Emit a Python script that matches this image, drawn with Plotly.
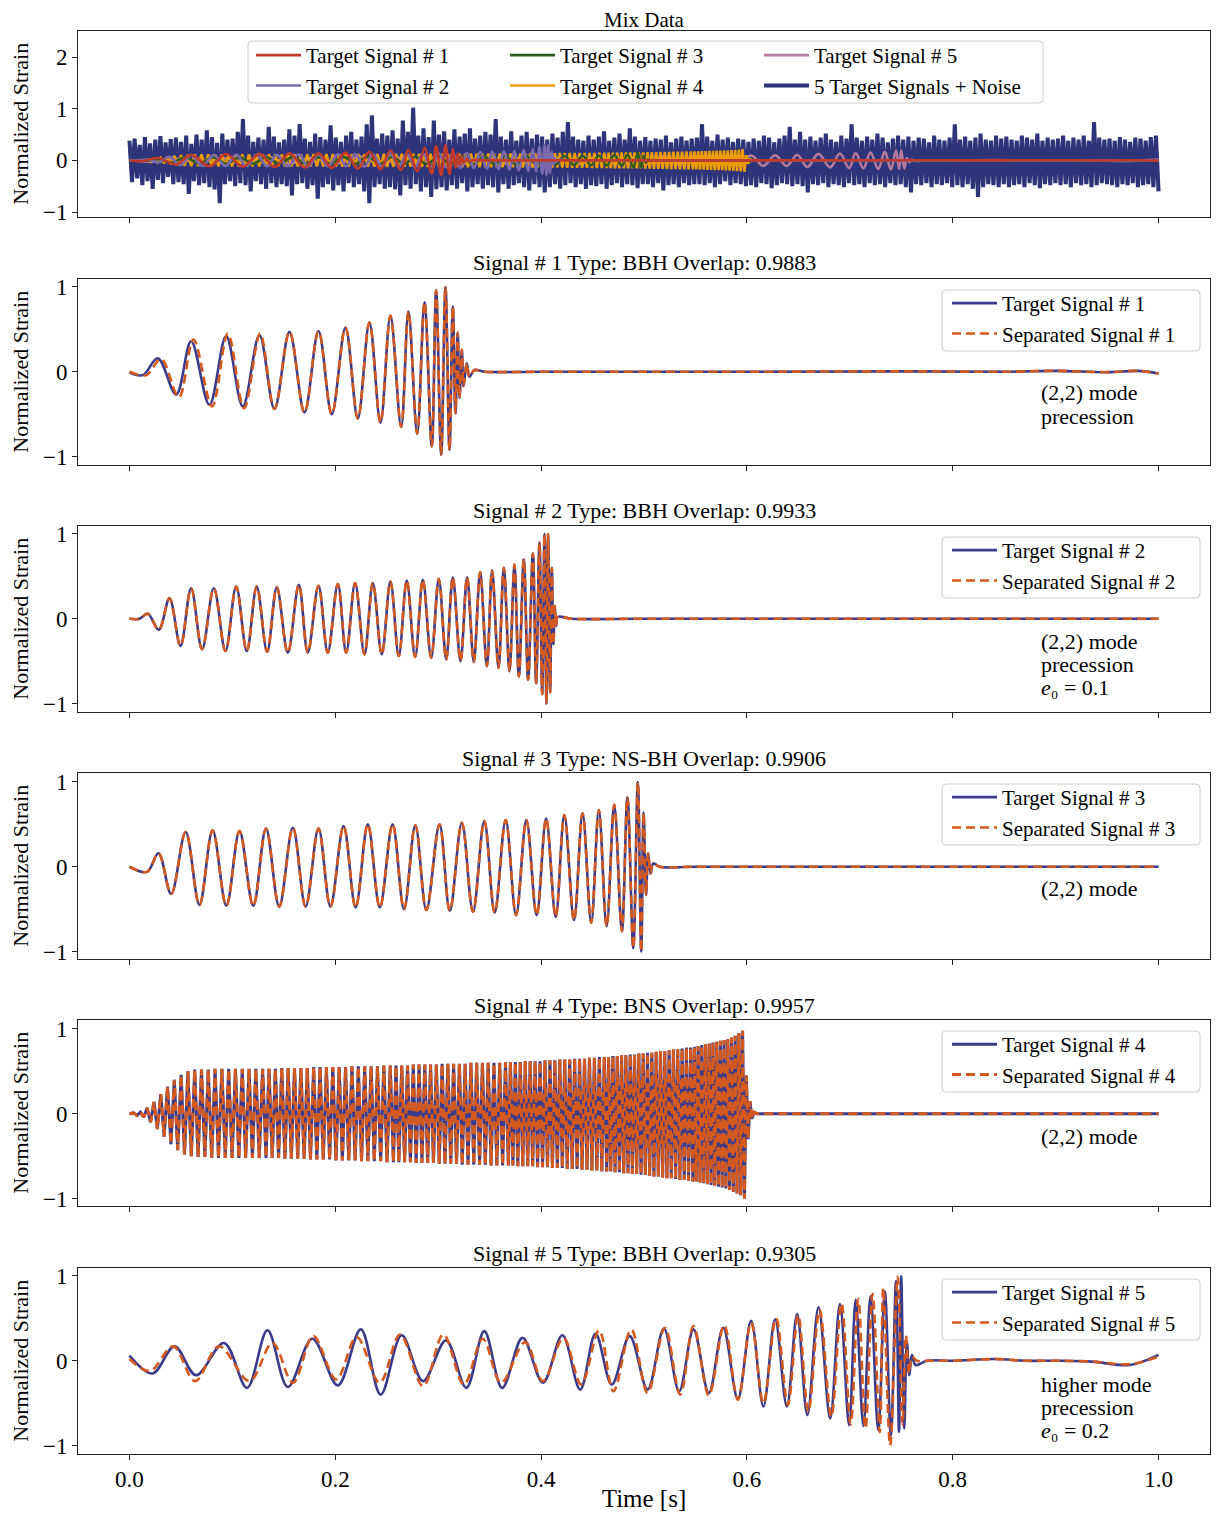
import plotly.graph_objects as go

# ---------------------------------------------------------------- data
time_ticks = [0.0, 0.2, 0.4, 0.6, 0.8, 1.0]

titles = ["Mix Data",
          "Signal # 1 Type: BBH Overlap: 0.9883",
          "Signal # 2 Type: BBH Overlap: 0.9933",
          "Signal # 3 Type: NS-BH Overlap: 0.9906",
          "Signal # 4 Type: BNS Overlap: 0.9957",
          "Signal # 5 Type: BBH Overlap: 0.9305"]

notes = [["(2,2) mode", "precession"],
         ["(2,2) mode", "precession", "<i>e</i>\u2080 = 0.1"],
         ["(2,2) mode"],
         ["(2,2) mode"],
         ["higher mode", "precession", "<i>e</i>\u2080 = 0.2"]]

# mixed data (noise + signals): alternating upper / lower excursions, evenly sampled in time
mix_upper = [0.38, 0.42, 0.30, 0.45, 0.33, 0.40, 0.47, 0.35, 0.41, 0.44,
             0.36, 0.48, 0.32, 0.50, 0.40, 0.58, 0.45, 0.34, 0.52, 0.40,
             0.42, 0.55, 0.80, 0.48, 0.36, 0.44, 0.40, 0.65, 0.46, 0.35,
             0.40, 0.60, 0.48, 0.70, 0.42, 0.36, 0.52, 0.45, 0.40, 0.68,
             0.44, 0.36, 0.48, 0.55, 0.40, 0.46, 0.70, 0.87, 0.42, 0.52,
             0.48, 0.58, 0.42, 0.77, 0.55, 1.02, 0.48, 0.62, 0.45, 0.77,
             0.50, 0.56, 0.40, 0.60, 0.46, 0.52, 0.62, 0.42, 0.48, 0.55,
             0.50, 0.80, 0.46, 0.40, 0.56, 0.38, 0.48, 0.55, 0.42, 0.50,
             0.46, 0.40, 0.52, 0.44, 0.55, 0.74, 0.46, 0.40, 0.38, 0.48,
             0.40, 0.46, 0.56, 0.38, 0.44, 0.52, 0.40, 0.62, 0.46, 0.38,
             0.45, 0.38, 0.42, 0.40, 0.48, 0.35, 0.42, 0.46, 0.38, 0.42,
             0.44, 0.70, 0.46, 0.38, 0.50, 0.40, 0.44, 0.36, 0.42, 0.40,
             0.36, 0.42, 0.38, 0.48, 0.44, 0.35, 0.42, 0.48, 0.65, 0.40,
             0.55, 0.40, 0.46, 0.38, 0.44, 0.52, 0.40, 0.36, 0.48, 0.42,
             0.70, 0.44, 0.38, 0.46, 0.40, 0.52, 0.44, 0.35, 0.42, 0.48,
             0.40, 0.46, 0.38, 0.44, 0.42, 0.35, 0.48, 0.40, 0.38, 0.44,
             0.70, 0.40, 0.46, 0.38, 0.44, 0.52, 0.40, 0.38, 0.48, 0.42,
             0.46, 0.40, 0.38, 0.48, 0.44, 0.40, 0.52, 0.38, 0.44, 0.40,
             0.42, 0.48, 0.38, 0.44, 0.40, 0.48, 0.38, 0.74, 0.44, 0.40,
             0.42, 0.38, 0.45, 0.40, 0.36, 0.44, 0.42, 0.38, 0.45, 0.48]
mix_lower = [-0.42, -0.35, -0.48, -0.40, -0.55, -0.38, -0.44, -0.32, -0.46, -0.42,
             -0.46, -0.65, -0.40, -0.48, -0.44, -0.52, -0.56, -0.83, -0.46, -0.40,
             -0.50, -0.44, -0.48, -0.60, -0.40, -0.46, -0.55, -0.44, -0.52, -0.46,
             -0.50, -0.68, -0.46, -0.44, -0.55, -0.48, -0.74, -0.52, -0.46, -0.58,
             -0.48, -0.60, -0.44, -0.52, -0.46, -0.60, -0.83, -0.52, -0.46, -0.55,
             -0.52, -0.56, -0.68, -0.48, -0.55, -0.46, -0.60, -0.52, -0.71, -0.56,
             -0.52, -0.58, -0.48, -0.55, -0.44, -0.60, -0.52, -0.46, -0.55, -0.48,
             -0.52, -0.62, -0.46, -0.55, -0.48, -0.44, -0.52, -0.58, -0.46, -0.52,
             -0.62, -0.52, -0.46, -0.55, -0.48, -0.44, -0.52, -0.46, -0.55, -0.48,
             -0.50, -0.46, -0.55, -0.48, -0.44, -0.52, -0.46, -0.48, -0.54, -0.46,
             -0.46, -0.52, -0.44, -0.58, -0.48, -0.46, -0.52, -0.44, -0.48, -0.46,
             -0.46, -0.48, -0.44, -0.52, -0.46, -0.40, -0.48, -0.44, -0.46, -0.50,
             -0.48, -0.52, -0.44, -0.46, -0.54, -0.48, -0.44, -0.46, -0.50, -0.46,
             -0.50, -0.62, -0.46, -0.48, -0.44, -0.52, -0.46, -0.48, -0.52, -0.44,
             -0.48, -0.46, -0.52, -0.44, -0.48, -0.46, -0.52, -0.44, -0.48, -0.46,
             -0.52, -0.62, -0.46, -0.48, -0.44, -0.52, -0.46, -0.48, -0.44, -0.52,
             -0.48, -0.52, -0.46, -0.55, -0.71, -0.52, -0.46, -0.48, -0.52, -0.46,
             -0.52, -0.48, -0.46, -0.52, -0.44, -0.48, -0.54, -0.46, -0.48, -0.44,
             -0.48, -0.46, -0.52, -0.44, -0.48, -0.46, -0.52, -0.48, -0.44, -0.46,
             -0.48, -0.52, -0.46, -0.48, -0.44, -0.52, -0.48, -0.46, -0.52, -0.60]

# relative size of each target signal inside the mixed data
mix_scale = [0.29, 0.29, 0.14, 0.22, 0.20]

# Signal 1 (BBH, precession): extrema times [s] and normalized strain
sig1_t = [0.0, 0.0130, 0.0275, 0.0454, 0.0599, 0.0777, 0.0940, 0.1101, 0.1263, 0.1409,
          0.1555, 0.1701, 0.1837, 0.1966, 0.2099, 0.2219, 0.2332, 0.2439, 0.2536, 0.2640,
          0.2711, 0.2796, 0.2867, 0.2938, 0.2980, 0.3029, 0.3071, 0.3110, 0.3142, 0.3168,
          0.3190, 0.3207, 0.3230, 0.3246, 0.3278, 0.3304, 0.3353, 0.345, 0.4, 0.6,
          0.75, 0.85, 0.9, 0.95, 0.98, 1.0]
sig1_v = [-0.01, -0.04, 0.16, -0.27, 0.36, -0.39, 0.42, -0.41, 0.43, -0.44,
          0.47, -0.48, 0.48, -0.50, 0.52, -0.55, 0.58, -0.60, 0.66, -0.65,
          0.71, -0.73, 0.82, -0.88, 0.96, -0.98, 1.0, -0.92, 0.77, -0.49,
          0.46, -0.31, 0.26, -0.17, 0.10, -0.06, 0.02, 0.0, 0.0, 0.0,
          0.005, 0.0, 0.01, -0.005, 0.01, -0.02]
sep1_t_head = [0.0, 0.0162, 0.0307, 0.0480, 0.0622, 0.0803, 0.0956, 0.1114, 0.1270]
sep1_v_head = [0.0, -0.04, 0.15, -0.30, 0.38, -0.41, 0.45, -0.43, 0.45]

# Signal 2 (BBH, precession, e0=0.1)
sig2_t = [0.0, 0.0097, 0.0178, 0.0285, 0.0389, 0.0496, 0.0599, 0.0706, 0.0820, 0.0933,
          0.1037, 0.1140, 0.1237, 0.1338, 0.1432, 0.1539, 0.1646, 0.1733, 0.1837, 0.1927,
          0.2025, 0.2106, 0.2193, 0.2284, 0.2365, 0.2452, 0.2536, 0.2617, 0.2695, 0.2776,
          0.2851, 0.2932, 0.3006, 0.3078, 0.3142, 0.3217, 0.3281, 0.3346, 0.3408, 0.3473,
          0.3524, 0.3586, 0.3638, 0.3693, 0.3741, 0.3784, 0.3832, 0.3874, 0.3920, 0.3952,
          0.3984, 0.4011, 0.4033, 0.4052, 0.4068, 0.4088, 0.4104, 0.4120, 0.4133, 0.4146,
          0.4162, 0.43, 0.5, 0.7, 0.9, 1.0]
sig2_v = [0.0, 0.0, 0.06, -0.13, 0.24, -0.32, 0.36, -0.36, 0.36, -0.38,
          0.38, -0.38, 0.38, -0.39, 0.37, -0.40, 0.40, -0.40, 0.39, -0.40,
          0.41, -0.40, 0.42, -0.42, 0.42, -0.42, 0.44, -0.44, 0.45, -0.45,
          0.46, -0.46, 0.47, -0.48, 0.49, -0.50, 0.49, -0.51, 0.55, -0.56,
          0.57, -0.58, 0.60, -0.62, 0.64, -0.68, 0.70, -0.72, 0.77, -0.76,
          0.90, -0.89, 1.0, -1.0, 1.0, -0.87, 0.6, -0.3, 0.15, -0.08,
          0.02, 0.0, 0.0, 0.0, 0.0, 0.0]

# Signal 3 (NS-BH)
sig3_t = [0.0, 0.0171, 0.0282, 0.0405, 0.0546, 0.0680, 0.0808, 0.0942, 0.1069, 0.1203,
          0.1327, 0.1455, 0.1588, 0.1712, 0.1837, 0.1953, 0.2081, 0.2198, 0.2316, 0.2433,
          0.2557, 0.2668, 0.2778, 0.2885, 0.3013, 0.3113, 0.3230, 0.3338, 0.3448, 0.3549,
          0.3656, 0.3757, 0.3857, 0.3957, 0.4049, 0.4142, 0.4226, 0.4320, 0.4403, 0.4487,
          0.4561, 0.4637, 0.4711, 0.4785, 0.4839, 0.4896, 0.4940, 0.4973, 0.4996, 0.5020,
          0.5040, 0.5064, 0.5090, 0.515, 0.55, 0.75, 0.9, 1.0]
sig3_v = [0.0, -0.06, 0.16, -0.32, 0.41, -0.45, 0.43, -0.46, 0.42, -0.46,
          0.45, -0.47, 0.46, -0.47, 0.45, -0.47, 0.48, -0.48, 0.50, -0.48,
          0.50, -0.50, 0.49, -0.51, 0.50, -0.52, 0.52, -0.53, 0.54, -0.54,
          0.55, -0.57, 0.55, -0.57, 0.57, -0.59, 0.61, -0.63, 0.63, -0.66,
          0.67, -0.70, 0.73, -0.76, 0.82, -0.96, 1.0, -1.0, 0.64, -0.33,
          0.16, -0.08, 0.04, 0.0, 0.0, 0.0, 0.0, 0.0]

# Signal 4 (BNS): times of maxima / minima and their values
sig4_tmax = [0.004, 0.0106, 0.0172, 0.0238, 0.0304, 0.037, 0.0436, 0.0502, 0.0568, 0.0634,
             0.07, 0.0766, 0.0832, 0.0898, 0.0964, 0.103, 0.1096, 0.1162, 0.1228, 0.1294,
             0.1356, 0.1418, 0.148, 0.1542, 0.1604, 0.1666, 0.1728, 0.179, 0.1852, 0.1914,
             0.1976, 0.2038, 0.21, 0.2162, 0.2224, 0.2286, 0.2348, 0.241, 0.2472, 0.2534,
             0.259, 0.2646, 0.2702, 0.2758, 0.2814, 0.287, 0.2926, 0.2982, 0.3038, 0.3094,
             0.315, 0.3206, 0.3262, 0.3318, 0.3374, 0.343, 0.3486, 0.3542, 0.3598, 0.3654,
             0.3702, 0.375, 0.3798, 0.3846, 0.3894, 0.3942, 0.399, 0.4038, 0.4086, 0.4134,
             0.4182, 0.423, 0.4278, 0.4326, 0.4374, 0.4422, 0.447, 0.4518, 0.4566, 0.4614,
             0.4656, 0.4698, 0.474, 0.4782, 0.4824, 0.4866, 0.4908, 0.495, 0.4992, 0.5034,
             0.5076, 0.5118, 0.516, 0.5202, 0.5244, 0.5286, 0.5328, 0.537, 0.5412, 0.5454,
             0.549, 0.5526, 0.5562, 0.5598, 0.5634, 0.567, 0.5706, 0.5742, 0.5778, 0.5814,
             0.585, 0.5886, 0.5922, 0.5958]
sig4_tmin = [0.0073, 0.0139, 0.0205, 0.0271, 0.0337, 0.0403, 0.0469, 0.0535, 0.0601, 0.0667,
             0.0733, 0.0799, 0.0865, 0.0931, 0.0997, 0.1063, 0.1129, 0.1195, 0.1261, 0.1327,
             0.1387, 0.1449, 0.1511, 0.1573, 0.1635, 0.1697, 0.1759, 0.1821, 0.1883, 0.1945,
             0.2007, 0.2069, 0.2131, 0.2193, 0.2255, 0.2317, 0.2379, 0.2441, 0.2503, 0.2565,
             0.2618, 0.2674, 0.273, 0.2786, 0.2842, 0.2898, 0.2954, 0.301, 0.3066, 0.3122,
             0.3178, 0.3234, 0.329, 0.3346, 0.3402, 0.3458, 0.3514, 0.357, 0.3626, 0.3682,
             0.3726, 0.3774, 0.3822, 0.387, 0.3918, 0.3966, 0.4014, 0.4062, 0.411, 0.4158,
             0.4206, 0.4254, 0.4302, 0.435, 0.4398, 0.4446, 0.4494, 0.4542, 0.459, 0.4638,
             0.4677, 0.4719, 0.4761, 0.4803, 0.4845, 0.4887, 0.4929, 0.4971, 0.5013, 0.5055,
             0.5097, 0.5139, 0.5181, 0.5223, 0.5265, 0.5307, 0.5349, 0.5391, 0.5433, 0.5475,
             0.5508, 0.5544, 0.558, 0.5616, 0.5652, 0.5688, 0.5724, 0.576, 0.5796, 0.5832,
             0.5868, 0.5904, 0.594, 0.5976]
sig4_vmax = [0.01, 0.02, 0.07, 0.14, 0.23, 0.32, 0.40, 0.46, 0.50, 0.52,
             0.52, 0.52, 0.53, 0.53, 0.53, 0.53, 0.53, 0.53, 0.53, 0.53,
             0.53, 0.53, 0.54, 0.54, 0.54, 0.54, 0.54, 0.55, 0.55, 0.55,
             0.55, 0.55, 0.55, 0.56, 0.56, 0.56, 0.56, 0.56, 0.57, 0.57,
             0.57, 0.57, 0.57, 0.58, 0.58, 0.58, 0.58, 0.58, 0.59, 0.59,
             0.59, 0.59, 0.59, 0.60, 0.60, 0.60, 0.60, 0.60, 0.60, 0.61,
             0.61, 0.61, 0.61, 0.62, 0.62, 0.62, 0.62, 0.63, 0.63, 0.63,
             0.64, 0.64, 0.64, 0.65, 0.65, 0.65, 0.66, 0.66, 0.67, 0.67,
             0.67, 0.68, 0.68, 0.69, 0.69, 0.70, 0.70, 0.71, 0.71, 0.72,
             0.72, 0.73, 0.74, 0.74, 0.75, 0.76, 0.76, 0.77, 0.78, 0.78,
             0.79, 0.80, 0.81, 0.82, 0.83, 0.84, 0.85, 0.86, 0.87, 0.88,
             0.90, 0.92, 0.95, 0.98]
sig4_vmin = [-0.02, -0.04, -0.10, -0.18, -0.27, -0.36, -0.43, -0.48, -0.50, -0.51,
             -0.51, -0.52, -0.52, -0.52, -0.52, -0.52, -0.52, -0.52, -0.52, -0.52,
             -0.52, -0.52, -0.53, -0.53, -0.53, -0.53, -0.54, -0.54, -0.54, -0.54,
             -0.55, -0.55, -0.55, -0.55, -0.56, -0.56, -0.56, -0.56, -0.57, -0.57,
             -0.57, -0.57, -0.57, -0.58, -0.58, -0.58, -0.58, -0.59, -0.59, -0.59,
             -0.59, -0.60, -0.60, -0.60, -0.60, -0.60, -0.61, -0.61, -0.61, -0.61,
             -0.61, -0.62, -0.62, -0.62, -0.62, -0.63, -0.63, -0.63, -0.64, -0.64,
             -0.64, -0.65, -0.65, -0.65, -0.66, -0.66, -0.67, -0.67, -0.68, -0.68,
             -0.68, -0.69, -0.69, -0.70, -0.70, -0.71, -0.71, -0.72, -0.72, -0.73,
             -0.74, -0.74, -0.75, -0.76, -0.76, -0.77, -0.78, -0.78, -0.79, -0.80,
             -0.80, -0.81, -0.82, -0.83, -0.84, -0.85, -0.86, -0.87, -0.88, -0.90,
             -0.92, -0.94, -0.96, -1.00]
sig4_tail_t = [0.5994, 0.6012, 0.603, 0.6048, 0.607, 0.61, 1.0]
sig4_tail_v = [0.45, -0.30, 0.15, -0.06, 0.02, 0.0, 0.0]

# Signal 5 (BBH, higher mode, precession, e0=0.2)
sig5_t = [0.0, 0.0225, 0.0438, 0.0647, 0.0919, 0.1143, 0.1341, 0.1539, 0.1777, 0.2025,
          0.2248, 0.2441, 0.2645, 0.2853, 0.3076, 0.3274, 0.3448, 0.3622, 0.3820, 0.4018,
          0.4207, 0.4380, 0.4529, 0.4687, 0.4861, 0.5035, 0.5193, 0.5342, 0.5481, 0.5630,
          0.5769, 0.5912, 0.6041, 0.6160, 0.6274, 0.6388, 0.6488, 0.6587, 0.6696, 0.6809,
          0.6904, 0.6993, 0.7057, 0.7132, 0.7201, 0.7276, 0.7340, 0.7399, 0.7449, 0.7478,
          0.7499, 0.7529, 0.7554, 0.7579, 0.7603, 0.7638, 0.775, 0.8, 0.842, 0.87,
          0.9, 0.935, 0.972, 1.0]
sig5_v = [0.06, -0.15, 0.17, -0.17, 0.21, -0.32, 0.36, -0.31, 0.26, -0.29,
          0.37, -0.40, 0.30, -0.24, 0.24, -0.32, 0.35, -0.32, 0.27, -0.26,
          0.30, -0.34, 0.32, -0.28, 0.29, -0.34, 0.38, -0.36, 0.37, -0.38,
          0.39, -0.45, 0.47, -0.54, 0.49, -0.54, 0.55, -0.64, 0.63, -0.68,
          0.67, -0.76, 0.72, -0.77, 0.76, -0.82, 0.82, -0.88, 0.94, -0.84,
          1.0, -0.80, 0.23, -0.17, 0.07, -0.05, 0.0, 0.0, 0.02, 0.0,
          0.0, -0.01, -0.05, 0.07]
sep5_t = [0.0, 0.0200, 0.0424, 0.0637, 0.0870, 0.1167, 0.1390, 0.1589, 0.1787, 0.2010,
          0.2208, 0.2432, 0.2630, 0.2853, 0.3051, 0.3250, 0.3433, 0.3611, 0.3845, 0.4018,
          0.4217, 0.4390, 0.4564, 0.4703, 0.4876, 0.5035, 0.5203, 0.5352, 0.5481, 0.5630,
          0.5779, 0.5912, 0.6041, 0.6160, 0.6284, 0.6398, 0.6498, 0.6597, 0.6706, 0.6820,
          0.6919, 0.7008, 0.7082, 0.7152, 0.7221, 0.7291, 0.7325, 0.7392, 0.7465, 0.7512,
          0.7545, 0.7575, 0.7605, 0.765, 0.775, 0.8, 0.842, 0.87, 0.9, 0.935,
          0.972, 1.0]
sep5_v = [0.02, -0.12, 0.17, -0.24, 0.17, -0.24, 0.21, -0.26, 0.29, -0.22,
          0.28, -0.26, 0.31, -0.30, 0.31, -0.28, 0.26, -0.26, 0.22, -0.24,
          0.27, -0.28, 0.36, -0.36, 0.37, -0.38, 0.39, -0.40, 0.41, -0.41,
          0.42, -0.46, 0.45, -0.50, 0.50, -0.52, 0.54, -0.60, 0.60, -0.66,
          0.68, -0.75, 0.73, -0.80, 0.79, -0.84, 0.86, -1.0, 0.99, -0.75,
          0.30, -0.15, 0.05, 0.0, 0.0, 0.0, 0.02, 0.0, 0.0, -0.01,
          -0.04, 0.05]


# ---------------------------------------------------------------- assemble series
def interleave(a, b):
    out = []
    for p, q in zip(a, b):
        out += [p, q]
    return out


sig4_t = [0.0] + interleave(sig4_tmax, sig4_tmin) + sig4_tail_t
sig4_v = [0.0] + interleave(sig4_vmax, sig4_vmin) + sig4_tail_v

targets = [(sig1_t, sig1_v), (sig2_t, sig2_v), (sig3_t, sig3_v), (sig4_t, sig4_v), (sig5_t, sig5_v)]
separated = [(sep1_t_head + sig1_t[9:], sep1_v_head + sig1_v[9:]),
             (sig2_t, sig2_v), (sig3_t, sig3_v), (sig4_t, sig4_v), (sep5_t, sep5_v)]
splined = [True, True, True, False, True]

mix_v = interleave(mix_upper, mix_lower)
mix_t = [i / (len(mix_v) - 1) for i in range(len(mix_v))]

# ---------------------------------------------------------------- style / layout
FONT = "Liberation Serif"
OFF = 8                      # page offset of the figure (body margin)
W, H = 1203, 1504
ML, MR, MT, MB = 70, 1, 23, 58
PW, PH = W - ML - MR, H - MT - MB
tops = [31, 279, 526, 773, 1020, 1268]          # panel tops in page pixels
PANEL_H = 185.5
yranges = [[-1.087, 2.505], [-1.094, 1.094], [-1.094, 1.094], [-1.082, 1.106],
           [-1.082, 1.106], [-1.094, 1.094]]
ytickvals = [[-1, 0, 1, 2]] + [[-1, 0, 1]] * 5

TARGET_C = "#3b3b8c"
SEP_C = "#d4591f"
mix_colors = ["#c0392b", "#7b6aae", "#2f5d21", "#eb9b00", "#b47b9e"]
MIX_C = "#2d3479"
AX_C = "#222222"


def pyp(px):
    return (H - MB - (px - OFF)) / PH


def pxp(px):
    return (px - OFF - ML) / PW


fig = go.Figure()

# --- top panel: mixed data first (drawn underneath), then targets 5..1
fig.add_trace(go.Scatter(x=mix_t, y=mix_v, mode="lines", name="5 Target Signals + Noise",
                         line=dict(color=MIX_C, width=4.0, simplify=False), xaxis="x", yaxis="y",
                         legend="legend3", legendrank=2, hoverinfo="skip"))
leg_of = ["legend", "legend", "legend2", "legend2", "legend3"]
for i in range(4, -1, -1):
    t, v = targets[i]
    fig.add_trace(go.Scatter(
        x=t, y=[val * mix_scale[i] for val in v], mode="lines",
        name=f"Target Signal # {i + 1}",
        line=dict(color=mix_colors[i], width=2.6, simplify=False,
                  shape="spline" if splined[i] else "linear"),
        xaxis="x", yaxis="y", legend=leg_of[i], legendrank=1 + (i % 2 if i < 4 else 0),
        hoverinfo="skip"))

# --- individual panels
for i in range(5):
    xa = f"x{i + 2}"
    ya = f"y{i + 2}"
    lg = f"legend{i + 4}"
    shp = "spline" if splined[i] else "linear"
    lw = 3.0 if i == 3 else 2.6
    t, v = targets[i]
    fig.add_trace(go.Scatter(x=t, y=v, mode="lines", name=f"Target Signal # {i + 1}",
                             line=dict(color=TARGET_C, width=lw, shape=shp, simplify=False),
                             xaxis=xa, yaxis=ya, legend=lg, legendrank=1, hoverinfo="skip"))
    ts, vs = separated[i]
    fig.add_trace(go.Scatter(x=ts, y=vs, mode="lines", name=f"Separated Signal # {i + 1}",
                             line=dict(color=SEP_C, width=lw, shape=shp, dash="9px,5px",
                                       simplify=False),
                             xaxis=xa, yaxis=ya, legend=lg, legendrank=2, hoverinfo="skip"))

layout = dict(width=W, height=H, margin=dict(l=ML, r=MR, t=MT, b=MB, autoexpand=False),
              paper_bgcolor="white", plot_bgcolor="white",
              font=dict(family=FONT, size=20, color="black"))

for k in range(6):
    xa = "xaxis" if k == 0 else f"xaxis{k + 1}"
    ya = "yaxis" if k == 0 else f"yaxis{k + 1}"
    xid = "x" if k == 0 else f"x{k + 1}"
    yid = "y" if k == 0 else f"y{k + 1}"
    layout[xa] = dict(domain=[0, 1], anchor=yid, range=[-0.05, 1.05],
                      tickvals=time_ticks, ticktext=[f"{v:.1f}" for v in time_ticks],
                      showticklabels=(k == 5), ticks="outside", ticklen=5, tickwidth=1,
                      tickcolor=AX_C, showline=True, linecolor=AX_C, linewidth=1,
                      mirror=True, showgrid=False, zeroline=False,
                      tickfont=dict(family=FONT, size=23, color="black"))
    if k == 5:
        layout[xa]["title"] = dict(text="Time [s]", font=dict(family=FONT, size=25), standoff=4)
    layout[ya] = dict(domain=[pyp(tops[k] + PANEL_H), pyp(tops[k])], anchor=xid,
                      range=yranges[k], tickvals=ytickvals[k], ticks="outside", ticklen=5,
                      tickwidth=1, tickcolor=AX_C, showline=True, linecolor=AX_C,
                      linewidth=1, mirror=True, showgrid=False, zeroline=False,
                      tickfont=dict(family=FONT, size=23, color="black"),
                      title=dict(text="Normalized Strain", font=dict(family=FONT, size=22),
                                 standoff=8))


def legend_cfg(xpx, ytop_px):
    return dict(x=pxp(xpx), y=pyp(ytop_px), xanchor="left", yanchor="top",
                orientation="v", bgcolor="rgba(0,0,0,0)", borderwidth=0,
                font=dict(family=FONT, size=21, color="black"), itemwidth=45,
                tracegroupgap=0, traceorder="normal")


layout["legend"] = legend_cfg(251, 35)
layout["legend2"] = legend_cfg(505, 35)
layout["legend3"] = legend_cfg(759, 35)
for i in range(5):
    layout[f"legend{i + 4}"] = legend_cfg(947, tops[i + 1] + 4)


def rounded_box(x0px, y0px, x1px, y1px, r=4):
    x0, x1 = pxp(x0px), pxp(x1px)
    y0, y1 = pyp(y0px), pyp(y1px)
    rx, ry = r / PW, r / PH
    path = (f"M {x0 + rx},{y0} L {x1 - rx},{y0} Q {x1},{y0} {x1},{y0 - ry} "
            f"L {x1},{y1 + ry} Q {x1},{y1} {x1 - rx},{y1} L {x0 + rx},{y1} "
            f"Q {x0},{y1} {x0},{y1 + ry} L {x0},{y0 - ry} Q {x0},{y0} {x0 + rx},{y0} Z")
    return dict(type="path", xref="paper", yref="paper", path=path,
                line=dict(color="#cccccc", width=1), fillcolor="rgba(255,255,255,0.8)",
                layer="above")


shapes = [rounded_box(248, 41, 1043, 103)]
for i in range(5):
    shapes.append(rounded_box(942, tops[i + 1] + 11, 1200, tops[i + 1] + 72))
layout["shapes"] = shapes

annotations = []
title_center = [20, 263, 510, 758, 1005, 1253]
title_size = [21, 22, 22, 22, 22, 22]
for k in range(6):
    annotations.append(dict(text=titles[k], xref="paper", yref="paper", x=0.5,
                            y=pyp(title_center[k]), xanchor="center", yanchor="middle",
                            showarrow=False,
                            font=dict(family=FONT, size=title_size[k], color="black")))
note_first = [393, 641, 888, 1136, 1384]
for i in range(5):
    for j, line in enumerate(notes[i]):
        annotations.append(dict(text=line, xref="paper", yref="paper", x=pxp(1039),
                                y=pyp(note_first[i] + 23 * j), xanchor="left",
                                yanchor="middle", showarrow=False,
                                font=dict(family=FONT, size=22, color="black")))
layout["annotations"] = annotations

fig.update_layout(**layout)
fig.write_html("out.html")
